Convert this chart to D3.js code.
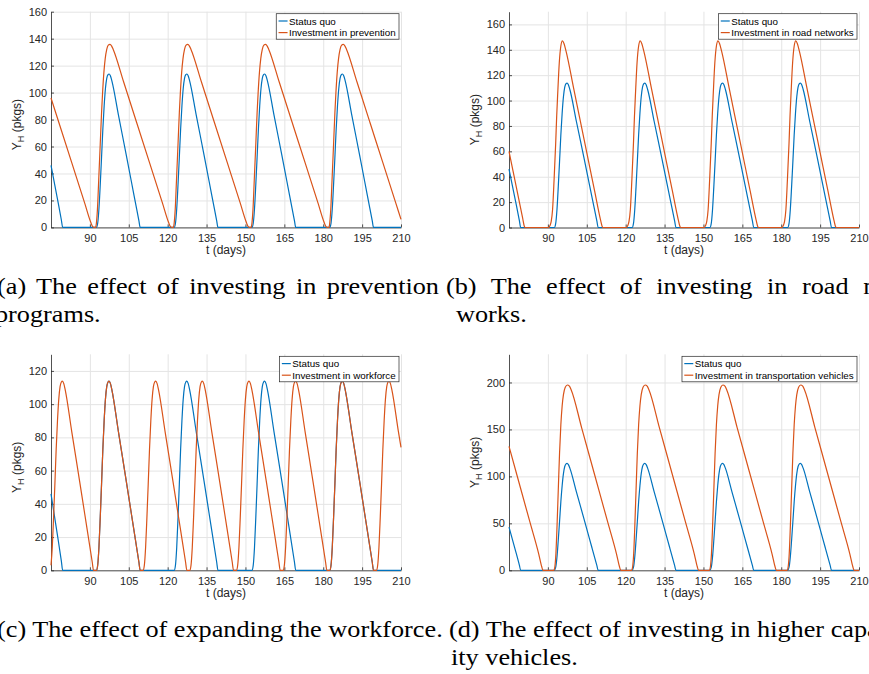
<!DOCTYPE html>
<html>
<head>
<meta charset="utf-8">
<script src="https://cdn.jsdelivr.net/npm/d3@7"></script>
<style>
  body { margin: 0; background: #fff; }
  svg { display: block; }
</style>
</head>
<body>
<svg id="fig" width="869" height="674"></svg>
<script>
// ---- data (t in days, Y_H in packages) ----
const xTicks = [90, 105, 120, 135, 150, 165, 180, 195, 210];
const yTicksA = [0, 20, 40, 60, 80, 100, 120, 140, 160];
const yTicksB = [0, 20, 40, 60, 80, 100, 120, 140, 160];
const yTicksC = [0, 20, 40, 60, 80, 100, 120];
const yTicksD = [0, 50, 100, 150, 200];

const baseName = "Status quo";
const scenarioNames = [
  "Investment in prevention",
  "Investment in road networks",
  "Investment in workforce",
  "Investment in transportation vehicles"
];

const captionA = ["(a) The effect of investing in prevention", "programs."];
const captionB = ["(b) The effect of investing in road net-", "works."];
const captionC = ["(c) The effect of expanding the workforce."];
const captionD = ["(d) The effect of investing in higher capac-", "ity vehicles."];

// same status quo run is plotted in every panel
const statusQuo = [
  [75, 46], [77.5, 21], [79, 5.5], [79.5, 0],
  [92.5, 0], [93, 3], [93.5, 14], [94, 32], [94.5, 52], [95, 73], [95.5, 90], [96, 103], [96.5, 110.5], [97, 113.3], [97.4, 113.8], [97.9, 112.5], [98.5, 108.5], [101, 83.5], [104, 54], [107, 24], [108.9, 5], [109.4, 0],
  [122.5, 0], [123, 3], [123.5, 14], [124, 32], [124.5, 52], [125, 73], [125.5, 90], [126, 103], [126.5, 110.5], [127, 113.3], [127.4, 113.8], [127.9, 112.5], [128.5, 108.5], [131, 83.5], [134, 54], [137, 24], [138.9, 5], [139.4, 0],
  [152.5, 0], [153, 3], [153.5, 14], [154, 32], [154.5, 52], [155, 73], [155.5, 90], [156, 103], [156.5, 110.5], [157, 113.3], [157.4, 113.8], [157.9, 112.5], [158.5, 108.5], [161, 83.5], [164, 54], [167, 24], [168.9, 5], [169.4, 0],
  [182.5, 0], [183, 3], [183.5, 14], [184, 32], [184.5, 52], [185, 73], [185.5, 90], [186, 103], [186.5, 110.5], [187, 113.3], [187.4, 113.8], [187.9, 112.5], [188.5, 108.5], [191, 83.5], [194, 54], [197, 24], [198.9, 5], [199.4, 0],
  [210, 0]
];

const prevention = [
  [75, 96], [78, 78], [83, 48], [88, 18], [90.3, 4], [91, 0.8], [91.7, 0], [92.2, 0],
  [92.5, 3], [92.9, 13], [93.4, 35], [94, 62], [94.5, 85], [94.9, 100], [95.4, 115], [95.9, 125], [96.5, 132], [97.1, 135.2], [97.75, 135.8], [98.4, 134.5], [99, 132], [103, 108], [108, 78], [113, 48], [118, 18], [120.3, 4], [121, 0.8], [121.7, 0], [122.2, 0],
  [122.5, 3], [122.9, 13], [123.4, 35], [124, 62], [124.5, 85], [124.9, 100], [125.4, 115], [125.9, 125], [126.5, 132], [127.1, 135.2], [127.75, 135.8], [128.4, 134.5], [129, 132], [133, 108], [138, 78], [143, 48], [148, 18], [150.3, 4], [151, 0.8], [151.7, 0], [152.2, 0],
  [152.5, 3], [152.9, 13], [153.4, 35], [154, 62], [154.5, 85], [154.9, 100], [155.4, 115], [155.9, 125], [156.5, 132], [157.1, 135.2], [157.75, 135.8], [158.4, 134.5], [159, 132], [163, 108], [168, 78], [173, 48], [178, 18], [180.3, 4], [181, 0.8], [181.7, 0], [182.2, 0],
  [182.5, 3], [182.9, 13], [183.4, 35], [184, 62], [184.5, 85], [184.9, 100], [185.4, 115], [185.9, 125], [186.5, 132], [187.1, 135.2], [187.75, 135.8], [188.4, 134.5], [189, 132], [193, 108], [198, 78], [203, 48], [208, 18], [210, 6]
];

const roadNetworks = [
  [75, 60], [78, 30], [80.3, 7], [80.9, 1], [81.3, 0],
  [90.3, 0], [90.8, 1.5], [91.3, 5], [91.8, 14], [92.4, 38], [93, 66], [93.4, 88], [93.8, 106], [94.4, 130], [95, 143], [95.6, 147], [96.2, 145], [97, 139], [100, 109], [104, 69], [108, 29], [110.3, 6], [110.9, 1], [111.3, 0],
  [120.3, 0], [120.8, 1.5], [121.3, 5], [121.8, 14], [122.4, 38], [123, 66], [123.4, 88], [123.8, 106], [124.4, 130], [125, 143], [125.6, 147], [126.2, 145], [127, 139], [130, 109], [134, 69], [138, 29], [140.3, 6], [140.9, 1], [141.3, 0],
  [150.3, 0], [150.8, 1.5], [151.3, 5], [151.8, 14], [152.4, 38], [153, 66], [153.4, 88], [153.8, 106], [154.4, 130], [155, 143], [155.6, 147], [156.2, 145], [157, 139], [160, 109], [164, 69], [168, 29], [170.3, 6], [170.9, 1], [171.3, 0],
  [180.3, 0], [180.8, 1.5], [181.3, 5], [181.8, 14], [182.4, 38], [183, 66], [183.4, 88], [183.8, 106], [184.4, 130], [185, 143], [185.6, 147], [186.2, 145], [187, 139], [190, 109], [194, 69], [198, 29], [200.3, 6], [200.9, 1], [201.3, 0],
  [210, 0]
];

const workforce = [
  [75, 3], [75.5, 14], [76, 32], [76.5, 52], [77, 73], [77.5, 90], [78, 103], [78.5, 110.5], [79, 113.3], [79.4, 113.8], [79.9, 112.5], [80.5, 108.5], [83, 83.5], [86, 54], [89, 24], [90.9, 5], [91.4, 0],
  [92.5, 0], [93, 3], [93.5, 14], [94, 32], [94.5, 52], [95, 73], [95.5, 90], [96, 103], [96.5, 110.5], [97, 113.3], [97.4, 113.8], [97.9, 112.5], [98.5, 108.5], [101, 83.5], [104, 54], [107, 24], [108.9, 5], [109.4, 0],
  [110.5, 0], [111, 3], [111.5, 14], [112, 32], [112.5, 52], [113, 73], [113.5, 90], [114, 103], [114.5, 110.5], [115, 113.3], [115.4, 113.8], [115.9, 112.5], [116.5, 108.5], [119, 83.5], [122, 54], [125, 24], [126.9, 5], [127.4, 0],
  [128.5, 0], [129, 3], [129.5, 14], [130, 32], [130.5, 52], [131, 73], [131.5, 90], [132, 103], [132.5, 110.5], [133, 113.3], [133.4, 113.8], [133.9, 112.5], [134.5, 108.5], [137, 83.5], [140, 54], [143, 24], [144.9, 5], [145.4, 0],
  [146.5, 0], [147, 3], [147.5, 14], [148, 32], [148.5, 52], [149, 73], [149.5, 90], [150, 103], [150.5, 110.5], [151, 113.3], [151.4, 113.8], [151.9, 112.5], [152.5, 108.5], [155, 83.5], [158, 54], [161, 24], [162.9, 5], [163.4, 0],
  [164.5, 0], [165, 3], [165.5, 14], [166, 32], [166.5, 52], [167, 73], [167.5, 90], [168, 103], [168.5, 110.5], [169, 113.3], [169.4, 113.8], [169.9, 112.5], [170.5, 108.5], [173, 83.5], [176, 54], [179, 24], [180.9, 5], [181.4, 0],
  [182.5, 0], [183, 3], [183.5, 14], [184, 32], [184.5, 52], [185, 73], [185.5, 90], [186, 103], [186.5, 110.5], [187, 113.3], [187.4, 113.8], [187.9, 112.5], [188.5, 108.5], [191, 83.5], [194, 54], [197, 24], [198.9, 5], [199.4, 0],
  [200.5, 0], [201, 3], [201.5, 14], [202, 32], [202.5, 52], [203, 73], [203.5, 90], [204, 103], [204.5, 110.5], [205, 113.3], [205.4, 113.8], [205.9, 112.5], [206.5, 108.5], [209, 83.5], [210, 74]
];

const vehicles = [
  [75, 132], [78, 102], [83, 52], [86.5, 17], [87.6, 4], [88.1, 0],
  [92.3, 0], [92.7, 4], [93.1, 18], [93.5, 45], [94, 85], [94.5, 125], [95, 155], [95.5, 175], [96, 187], [96.7, 195], [97.5, 197.3], [98.3, 196], [99, 192], [103, 152], [108, 102], [113, 52], [116.5, 17], [117.6, 4], [118.1, 0],
  [122.3, 0], [122.7, 4], [123.1, 18], [123.5, 45], [124, 85], [124.5, 125], [125, 155], [125.5, 175], [126, 187], [126.7, 195], [127.5, 197.3], [128.3, 196], [129, 192], [133, 152], [138, 102], [143, 52], [146.5, 17], [147.6, 4], [148.1, 0],
  [152.3, 0], [152.7, 4], [153.1, 18], [153.5, 45], [154, 85], [154.5, 125], [155, 155], [155.5, 175], [156, 187], [156.7, 195], [157.5, 197.3], [158.3, 196], [159, 192], [163, 152], [168, 102], [173, 52], [176.5, 17], [177.6, 4], [178.1, 0],
  [182.3, 0], [182.7, 4], [183.1, 18], [183.5, 45], [184, 85], [184.5, 125], [185, 155], [185.5, 175], [186, 187], [186.7, 195], [187.5, 197.3], [188.3, 196], [189, 192], [193, 152], [198, 102], [203, 52], [206.5, 17], [207.6, 4], [208.1, 0],
  [210, 0]
];

// ---- layout ----
const sansFont = "'Liberation Sans', Arial, Helvetica, sans-serif";
const serifFont = "'Liberation Serif', 'Times New Roman', serif";
const textColor = "#262626";
const gridColor = "#e4e4e4";
const blue = "#0072bd";
const orange = "#d95319";

const panels = [
  { data: prevention,   name: scenarioNames[0], yMax: 160, yTicks: yTicksA, x0: 51,  x1: 401, y0: 11.7,  y1: 227.4, labShift: 5 },
  { data: roadNetworks, name: scenarioNames[1], yMax: 170, yTicks: yTicksB, x0: 509, x1: 859, y0: 11.7,  y1: 227.5, labShift: 0 },
  { data: workforce,    name: scenarioNames[2], yMax: 130, yTicks: yTicksC, x0: 51,  x1: 401, y0: 354.3, y1: 570.3, labShift: 5 },
  { data: vehicles,     name: scenarioNames[3], yMax: 230, yTicks: yTicksD, x0: 509, x1: 859, y0: 354.3, y1: 570.3, labShift: 0 }
];

const svg = d3.select("#fig");
svg.append("rect").attr("width", 869).attr("height", 674).attr("fill", "#fff");

function drawPanel(p) {
  const x = d3.scaleLinear().domain([75, 210]).range([p.x0, p.x1]);
  const y = d3.scaleLinear().domain([0, p.yMax]).range([p.y1, p.y0]);
  const g = svg.append("g");

  // grid lines
  g.append("g")
    .attr("transform", `translate(0,${p.y1})`)
    .call(d3.axisBottom(x).tickValues(xTicks).tickSize(-(p.y1 - p.y0)).tickFormat(""))
    .call(s => { s.select(".domain").remove(); s.selectAll("line").attr("stroke", gridColor); });
  g.append("g")
    .attr("transform", `translate(${p.x0},0)`)
    .call(d3.axisLeft(y).tickValues(p.yTicks).tickSize(-(p.x1 - p.x0)).tickFormat(""))
    .call(s => { s.select(".domain").remove(); s.selectAll("line").attr("stroke", gridColor); });

  // axes, ticks pointing inwards like MATLAB
  const xa = g.append("g")
    .attr("transform", `translate(0,${p.y1})`)
    .call(d3.axisBottom(x).tickValues(xTicks).tickSizeInner(-3).tickSizeOuter(0).tickPadding(6.5));
  const ya = g.append("g")
    .attr("transform", `translate(${p.x0},0)`)
    .call(d3.axisLeft(y).tickValues(p.yTicks).tickSizeInner(-3).tickSizeOuter(0).tickPadding(4));
  [xa, ya].forEach(a => {
    a.attr("font-family", sansFont).attr("font-size", 11);
    a.selectAll("path, line").attr("stroke", textColor).attr("stroke-width", 0.8);
    a.selectAll("text").attr("fill", textColor);
  });

  // series
  const line = d3.line().x(d => x(d[0])).y(d => y(d[1])).curve(d3.curveMonotoneX);
  g.append("path").datum(statusQuo).attr("d", line)
    .attr("fill", "none").attr("stroke", blue).attr("stroke-width", 1.2);
  g.append("path").datum(p.data).attr("d", line)
    .attr("fill", "none").attr("stroke", orange).attr("stroke-width", 1.2);

  // axis labels
  g.append("text")
    .attr("x", (p.x0 + p.x1) / 2).attr("y", p.y1 + 26.5)
    .attr("text-anchor", "middle")
    .attr("font-family", sansFont).attr("font-size", 12).attr("fill", textColor)
    .text("t (days)");
  const yl = g.append("text")
    .attr("transform", `translate(${p.x0 - 30},${(p.y0 + p.y1) / 2 + p.labShift}) rotate(-90)`)
    .attr("text-anchor", "middle")
    .attr("font-family", sansFont).attr("font-size", 12).attr("fill", textColor);
  yl.append("tspan").text("Y");
  yl.append("tspan").attr("font-size", 9).attr("dy", 3).text("H");
  yl.append("tspan").attr("dy", -3).text(" (pkgs)");

  // legend in the top right corner
  const lg = g.append("g");
  const box = lg.append("rect").attr("fill", "#fff").attr("stroke", textColor).attr("stroke-width", 0.7);
  const names = [baseName, p.name];
  const colors = [blue, orange];
  const texts = names.map((n, i) => lg.append("text")
    .attr("font-family", sansFont).attr("font-size", 9.8).attr("fill", "#000")
    .text(n));
  const tw = d3.max(texts, t => t.node().getComputedTextLength());
  const bw = tw + 16, bh = 25.5;
  const bx = p.x1 - 2 - bw, by = p.y0 + 2;
  box.attr("x", bx).attr("y", by).attr("width", bw).attr("height", bh);
  texts.forEach((t, i) => {
    const cy = by + 7.3 + i * 11.6;
    t.attr("x", bx + 12.7).attr("y", cy + 3.5);
    lg.append("line").attr("x1", bx + 2.3).attr("x2", bx + 11.3)
      .attr("y1", cy).attr("y2", cy).attr("stroke", colors[i]).attr("stroke-width", 1.2);
  });
}

panels.forEach(drawPanel);

// ---- sub-captions (LaTeX style, cropped at the page edges) ----
const capSize = 24;
const probe = svg.append("text").attr("font-family", serifFont).attr("font-size", capSize).text(captionC[0]);
const sx = 446 / probe.node().getComputedTextLength();
probe.remove();

const captions = [
  { lines: captionA, x: -3,  x2: -5,  y: 294, width: 442 },
  { lines: captionB, x: 446, x2: 456, y: 294, width: 458 },
  { lines: captionC, x: -3,  x2: -3,  y: 637, width: null },
  { lines: captionD, x: 449, x2: 451, y: 637, width: null }
];

captions.forEach(c => {
  c.lines.forEach((s, i) => {
    const t = svg.append("text")
      .attr("transform", `translate(${i === 0 ? c.x : c.x2},${c.y + i * 28}) scale(${sx},1)`)
      .attr("font-family", serifFont).attr("font-size", capSize).attr("fill", "#000")
      .text(s);
    if (i === 0 && c.width) {
      const natural = t.node().getComputedTextLength();
      const gaps = s.split(" ").length - 1;
      t.attr("word-spacing", (c.width / sx - natural) / gaps);
    }
  });
});
</script>
</body>
</html>
